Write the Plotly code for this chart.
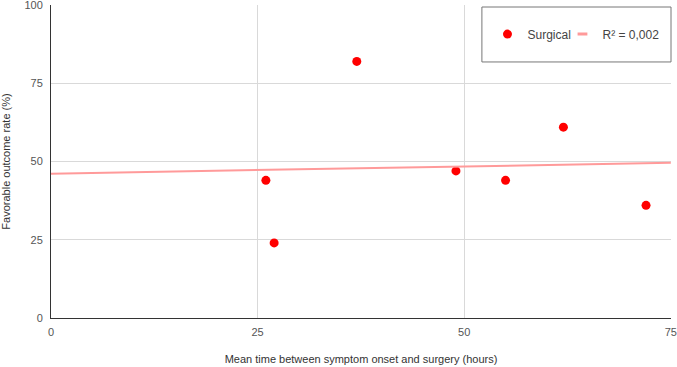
import numpy as np
import plotly.graph_objects as go

hours = [26, 27, 37, 49, 55, 62, 72]
favorable = [44, 24, 82, 47, 44, 61, 36]
x_ticks = [0, 25, 50, 75]
y_ticks = [0, 25, 50, 75, 100]

slope, intercept = np.polyfit(hours, favorable, 1)
pred = np.polyval([slope, intercept], hours)
ss_res = np.sum((np.array(favorable) - pred) ** 2)
ss_tot = np.sum((np.array(favorable) - np.mean(favorable)) ** 2)
r2 = 1 - ss_res / ss_tot
r2_label = f"R² = {r2:.3f}".replace(".", ",")

trend_x = [0, 75]
trend_y = [intercept + slope * v for v in trend_x]

font = "Liberation Sans, Arial, sans-serif"
trend_color = "#ff9a9a"

fig = go.Figure()
fig.add_trace(go.Scatter(
    x=hours, y=favorable, mode="markers", name="Surgical",
    marker=dict(color="#ff0000", size=9), legendwidth=30,
))
fig.add_trace(go.Scatter(
    x=trend_x, y=trend_y, mode="lines", name=r2_label, showlegend=False,
    line=dict(color=trend_color, width=2),
))
# legend entry for the trendline (short thick dash as in the reference)
fig.add_trace(go.Scatter(
    x=[None], y=[None], mode="markers", name=r2_label,
    marker=dict(symbol="line-ew-open", size=7, color=trend_color,
                line=dict(color=trend_color, width=3)),
))

fig.update_layout(
    width=677, height=367,
    margin=dict(l=51, r=6, t=5, b=49, autoexpand=False),
    paper_bgcolor="white", plot_bgcolor="white",
    font=dict(family=font, size=11, color="#555"),
    showlegend=True,
    legend=dict(
        orientation="h", x=0.704, xanchor="left", y=0.907, yanchor="middle",
        bgcolor="rgba(0,0,0,0)", borderwidth=0,
        font=dict(family=font, size=12, color="#444"),
        itemwidth=30,
    ),
    shapes=[dict(
        type="rect", xref="paper", yref="paper",
        x0=0.695, x1=1.0, y0=0.818, y1=0.9936,
        line=dict(color="#777", width=1), fillcolor="rgba(0,0,0,0)",
    )],
)
fig.update_xaxes(
    range=[0, 75.02], tickvals=x_ticks, showgrid=True, gridcolor="#d9d9d9",
    zeroline=False, showline=True, linecolor="#333", linewidth=1,
    ticks="", ticklabelstandoff=4, automargin=False, ticklabeloverflow="allow",
    title=dict(text="Mean time between symptom onset and surgery (hours)",
               font=dict(size=11, color="#333"), standoff=18),
)
fig.update_yaxes(
    range=[0, 100.03], tickvals=y_ticks, showgrid=True, gridcolor="#d9d9d9",
    zeroline=False, showline=True, linecolor="#333", linewidth=1,
    ticks="", ticklabelstandoff=5, automargin=False, ticklabeloverflow="allow",
    title=dict(text="Favorable outcome rate (%)",
               font=dict(size=11, color="#333"), standoff=14),
)

fig.write_html("out.html")
